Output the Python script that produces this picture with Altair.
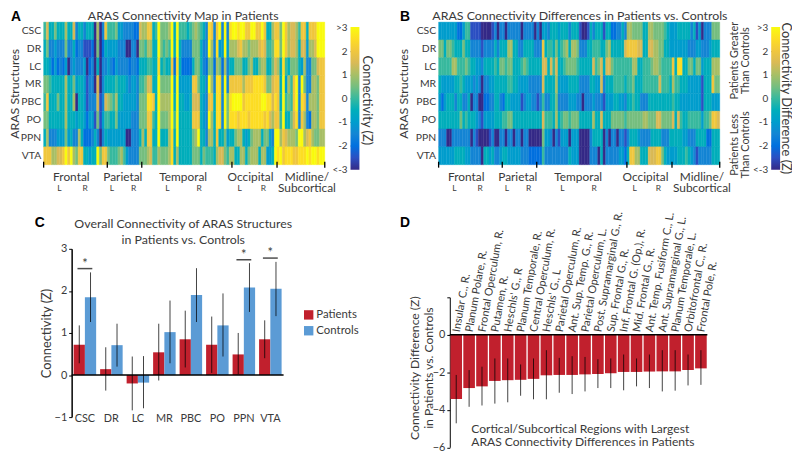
import altair as alt
import pandas as pd

STRUCTURES = ["CSC", "DR", "LC", "MR", "PBC", "PO", "PPN", "VTA"]

# Heat map cells, in half-Z units (value / 2 = Z), 106 regions per structure
A_CSC = [0,3,-1,-1,1,-1,-1,-1,2,-1,-1,3,-3,-1,-1,-3,-1,-1,-1,-6,2,-6,-3,4,0,0,0,1,-2,-2,-3,-3,-3,-3,-4,-4,
 3,2,2,4,4,-1,0,6,1,1,1,2,6,-1,6,0,0,0,-1,0,1,2,1,0,-1,-3,5,4,-3,4,6,-3,6,-3,
 5,6,6,5,6,6,4,4,6,6,4,4,6,4,-1,-1,2, 4,4,1,6,4,2,3,3,2,0,4,4,-1,4,4,4,6,6,6]
A_DR = [-1,1,-3,-3,-2,-3,-3,-3,1,-3,-3,-1,-4,-3,-3,-5,-5,-5,-4,-6,1,-6,-4,-1,-2,-2,-2,-2,-3,-3,-3,-6,-6,-3,-3,-6,
 1,1,0,2,2,-1,-1,6,1,0,1,0,6,-1,6,-1,-3,-3,-3,-3,1,1,1,-1,-3,-3,6,2,-3,5,-2,-2,6,-2,
 2,2,2,3,4,2,2,1,2,2,2,3,4,3,0,0,1, 5,5,1,6,4,2,3,3,2,-1,3,3,-2,2,2,3,6,6,6]
A_LC = [-1,-1,-2,-4,-2,-4,-3,-4,-2,-6,-3,-2,-3,-3,-3,-2,-6,-4,-3,-6,-1,-6,-3,-3,-2,-3,-4,-2,-3,-3,-3,-3,-4,-3,-3,-4,
 -1,-1,-1,0,0,-1,-1,5,-1,0,-1,-1,4,-4,5,-1,-4,-4,-4,-4,-1,1,1,-1,-3,-4,1,1,-4,2,1,-4,2,-3,
 -1,-1,1,1,1,-1,-1,1,2,-1,-1,1,2,2,-1,-1,1, 3,2,-1,5,0,-1,1,1,1,-1,-2,2,-3,-3,1,1,3,4,4]
A_MR = [1,1,0,-1,-1,-1,-1,-1,2,-1,-1,1,-2,-1,-1,-2,-5,-3,-3,-6,3,-6,-3,-1,-1,-1,-1,0,-1,-1,-1,-2,-3,-2,-2,-3,
 0,0,1,3,3,-1,-1,6,1,1,1,1,6,-2,6,-2,-2,-2,-2,-2,4,4,1,-1,-1,-3,6,2,-3,5,5,-3,6,-3,
 4,4,4,4,4,2,4,4,4,5,5,5,5,4,1,1,3, 4,4,-1,6,-2,2,0,4,6,-3,6,1,-3,-3,2,2,1,4,4]
A_PBC = [0,4,-1,-1,-1,1,-1,-1,2,-1,-1,2,-6,-1,-1,-2,-5,-3,-3,-3,3,-5,-3,3,2,1,0,2,-1,-1,-2,-2,-2,-2,-2,-3,
 1,1,1,5,5,4,-1,6,2,2,2,2,6,-1,6,-1,-1,-2,-2,-1,3,3,3,-1,-2,-3,4,4,-1,5,5,-3,6,1,
 5,6,6,6,6,4,5,5,5,5,5,5,6,6,5,5,3, 5,4,-1,6,0,1,0,4,6,-3,5,4,-3,2,2,2,1,4,4]
A_PO = [1,1,-1,-1,-1,-1,-1,-1,2,-1,-1,-1,-2,-1,-1,-2,-4,-2,-2,-5,1,-5,-2,0,0,-1,-1,1,-2,-2,-2,-2,-2,-3,-3,-3,
 1,1,1,4,4,0,-1,6,1,1,1,2,6,0,6,-1,-1,-1,-1,-1,4,4,4,-1,-2,-3,6,2,-1,5,5,-3,6,1,
 5,5,5,4,5,5,5,4,5,5,5,5,5,4,5,3,2, 4,4,0,6,-1,-1,1,3,5,-3,4,2,-3,-4,2,2,1,4,4]
A_PPN = [-1,2,-3,-3,-3,-2,-2,-2,1,-2,-1,-3,-3,2,-1,-4,-4,-4,-3,-1,-3,-6,-3,-1,-2,-2,-2,-2,-2,-2,-2,-6,-6,-3,-3,-3,
 -1,2,-1,4,4,-1,-1,6,-1,-1,-1,2,5,-1,6,-1,-1,-1,-1,-1,1,2,6,-1,-1,-3,2,2,-1,4,-1,-1,1,-2,
 -1,-1,1,2,2,-1,-2,-1,1,2,2,2,-1,1,1,-2,-3, 6,6,2,4,3,2,2,2,1,6,6,2,3,4,2,1,1,2,2]
A_VTA = [4,4,4,2,2,3,3,4,6,4,6,2,1,4,4,-1,-1,-2,-1,-1,6,1,4,4,1,0,0,0,1,2,0,-2,-3,-3,-3,-3,
 1,1,1,2,3,0,0,2,1,1,1,2,5,-1,2,-1,-1,-1,-1,-1,1,1,1,-1,1,0,0,0,-1,2,3,3,1,0,
 2,2,-1,-1,2,2,-1,1,2,2,2,-1,2,2,-2,-2,-1, 6,5,6,4,5,5,5,4,4,5,5,5,6,5,6,6,5,6,6]

B_CSC = [-2,-2,-2,-2,-2,-2,-2,-4,-4,-2,0,0,-5,-5,-5,-5,-6,-6,-6,-6,-5,-3,-6,-3,-3,-6,-3,-3,-3,-3,-3,-6,-3,-3,-3,-3,
 -6,-3,-6,-2,-2,-3,-1,-1,-1,-2,-1,-1,-1,-3,-1,-1,-1,-5,-6,-6,-5,-1,-3,-1,-1,-1,-5,-1,-1,-4,-4,-3,-3,-1,
 -3,2,2,1,1,1,1,-1,-1,2,2,1,1,1,1,0,-1, -2,-2,-2,-1,-1,-1,-1,-1,-3,-1,-5,-2,-6,-3,-3,-3,1,1,1]
B_DR = [1,1,-1,1,1,0,-1,-1,-1,1,-1,-1,-3,-3,-3,-3,-5,-3,-3,-3,-3,-1,-3,-1,-1,-1,2,2,-1,-1,-3,-3,-1,-1,-1,-1,
 -3,-3,-3,4,-1,0,0,-1,1,-1,0,1,2,-1,2,2,1,-3,-3,-3,-1,-1,0,0,0,-1,-1,1,2,-1,-1,-1,-1,-1,
 3,4,4,4,4,3,3,-1,-1,3,3,2,2,1,1,-1,-1, -2,-2,-2,-2,-2,-2,-2,-3,-3,-3,-2,-2,-3,-3,-3,-2,-1,-1,-1]
B_LC = [0,0,0,0,0,2,2,0,0,0,1,0,-1,-1,-2,-2,-3,-1,-1,-1,-1,0,-1,1,1,0,1,1,-1,-1,-1,0,1,0,-1,-1,
 -1,-1,-1,3,3,-1,3,0,3,-1,-1,0,1,1,1,1,0,-1,-1,-1,-1,-1,3,0,1,3,-1,3,3,1,0,0,0,0,
 0,0,0,2,2,-1,-1,0,0,0,1,2,2,1,0,0,0, 0,4,-1,5,5,-1,-1,1,1,-1,1,1,-2,-1,-1,-1,2,2,2]
B_MR = [-1,-2,-2,-2,-2,-2,-1,-1,0,-1,-2,-2,-2,-3,-2,-3,-6,-3,-3,-2,-2,-1,-1,-1,-1,-1,0,0,-1,-1,-2,-2,-2,-2,-3,-3,
 -3,-3,-3,3,-1,-1,-1,-1,2,-2,-2,-2,-2,-1,-1,-1,-1,-3,-3,-3,-3,-1,-1,-2,-2,3,-3,-1,-1,-1,0,0,0,0,
 -1,0,0,1,-1,-1,-1,0,0,0,0,0,0,3,0,0,0, -1,2,0,0,-1,-1,-1,-2,-2,-2,-2,-2,-5,-1,-1,-1,4,1,1]
B_PBC = [-2,-4,-2,-1,-1,-1,-3,-1,-1,-3,-3,-1,-6,-3,-3,-6,-6,-4,-4,-3,-3,-1,-1,-3,-4,-1,-1,-2,-2,-2,-2,-5,-3,-2,-2,-3,
 -3,-5,-3,0,-3,-3,-1,-1,1,-3,-3,-3,-3,-2,-2,-2,-3,-3,-6,-3,-3,-3,-2,-3,-3,-3,-5,-2,-2,-2,-1,-1,-2,-2,
 -3,-1,-1,0,-1,-1,-3,-3,-3,-1,-1,-1,-1,-1,-1,-1,-1, -1,0,-1,-1,-2,-2,-2,-2,-2,-2,-2,-2,-5,-1,-1,-1,-2,-2,-2]
B_PO = [-1,-1,-1,-1,-1,-1,-1,-1,1,-1,0,-1,-1,-1,-2,-3,-5,-2,-2,-2,-2,-1,-1,-1,0,0,1,1,-1,-1,-1,-1,-1,-1,-1,-1,
 -1,-1,-1,3,0,0,0,-1,2,-1,0,1,1,0,1,1,1,-1,-1,-1,-1,-1,2,-1,-1,3,-1,-1,-1,1,1,1,1,1,
 0,1,1,1,1,1,1,2,2,1,1,1,3,3,1,1,1, 1,3,-1,3,0,-1,-1,0,0,0,0,0,-2,0,0,1,4,4,3]
B_PPN = [-3,-3,-3,-6,-6,-3,-3,-3,-3,-3,-3,-3,-6,-3,-5,-6,-6,-6,-6,-5,-3,-6,-6,-3,-3,-6,-3,-3,-6,-3,-3,-6,-3,-3,-6,-6,
 -6,-6,-6,1,-2,-2,-3,-6,-3,-5,-2,-2,-2,-6,-2,-2,-2,-6,-6,-6,-6,-3,-1,-1,-1,-1,-6,-3,-6,-3,-3,-6,-3,-3,
 -5,-3,-1,-1,-1,-2,-3,-3,-3,-3,-1,-1,-1,-1,-3,-3,-3, -1,-1,-1,-1,-1,-2,-2,-3,-3,-3,-1,-1,-1,-1,-4,-4,-1,-1,-1]
B_VTA = [-2,-2,-2,-2,-2,-2,-1,-1,-1,-1,-2,-2,-3,-3,-3,-3,-6,-1,-1,-2,-1,-3,-3,-2,-1,-1,-2,-2,-2,-2,-2,-3,-3,-3,-4,-4,
 -4,-4,-4,0,-3,-3,-3,-3,-3,-3,-3,-3,-3,-1,-2,-2,-2,-6,-6,-6,-6,-3,-3,-3,-6,-1,-6,-3,-3,-3,-3,-3,-2,-2,
 -4,-1,4,4,2,2,-1,-1,-1,3,3,3,4,4,1,-1,-2, -2,-2,-2,-1,-1,-1,0,-1,-2,-3,-5,-3,-3,-3,-3,-3,-1,-1,-1]

MAP_A = [A_CSC, A_DR, A_LC, A_MR, A_PBC, A_PO, A_PPN, A_VTA]
MAP_B = [B_CSC, B_DR, B_LC, B_MR, B_PBC, B_PO, B_PPN, B_VTA]
COLORBAR_VALUES = [-3, -2, -1, 0, 1, 2, 3]
COLORBAR_LABELS = ["<-3", "-2", "-1", "0", "1", "2", ">3"]
REGION_EDGES = [0, 24, 37, 71, 88, 106]

# Panel C
PATIENTS = [0.72, 0.14, -0.20, 0.54, 0.85, 0.72, 0.49, 0.85]
CONTROLS = [1.85, 0.71, -0.18, 1.02, 1.90, 1.18, 2.08, 2.05]
PAT_LOW = [0.28, -0.37, -0.84, -0.13, 0.18, 0.05, 0.02, 0.40]
PAT_HIGH = [1.18, 0.66, 0.44, 1.22, 1.53, 1.39, 1.00, 1.30]
CON_LOW = [1.26, 0.20, -0.79, 0.28, 1.26, 0.44, 1.50, 1.40]
CON_HIGH = [2.44, 1.22, 0.45, 1.77, 2.54, 1.94, 2.66, 2.69]
SIG_CATS = ["CSC", "PPN", "VTA"]
SIG_LEVEL = [2.53, 2.74, 2.78]

# Panel D
REGIONS = ["Insular C., R.", "Planum Polare, R.", "Frontal Operculum, R.", "Putamen, R.",
           "Heschls' G., R", "Planum Temporale, R.", "Central Operculum, R.", "Heschls' G., L",
           "Parietal Operculum, R.", "Ant. Sup. Temp. G., R.", "Parietal Operculum, L.",
           "Post. Supramarginal G., R.", "Sup. Frontal G., R.", "Inf. Frontal G. (Op.), R.",
           "Mid.  Frontal G., R.", "Ant. Temp. Fusiform C., L.", "Ant. Supramarginal G., L.",
           "Planum Temporale, L.", "Orbitofrontal C., R.", "Frontal Pole, R."]
DIFF = [-3.42, -2.84, -2.75, -2.46, -2.42, -2.40, -2.35, -2.16, -2.14, -2.14,
        -2.11, -2.09, -2.05, -1.98, -1.98, -1.96, -1.95, -1.95, -1.88, -1.79]
DIFF_HIGH = [-2.14, -1.88, -1.70, -1.26, -1.26, -1.58, -1.26, -0.82, -1.23, -1.14,
             -1.18, -1.30, -1.26, -1.05, -1.26, -1.05, -0.82, -0.82, -1.05, -0.82]
DIFF_LOW = [-4.72, -3.84, -3.77, -3.67, -3.60, -3.25, -3.44, -3.44, -3.09, -3.16,
            -3.02, -2.84, -2.84, -2.96, -2.75, -2.84, -3.02, -2.98, -2.70, -2.67]

for r in MAP_A + MAP_B:
    assert len(r) == 106, [len(x) for x in MAP_A + MAP_B]

PARULA = ["#352a87", "#0363e1", "#1485d4", "#06a7c6", "#38b99e", "#92bf73", "#d9ba56", "#fcce2e", "#f9fb0e"]
PARULA_DOMAIN = [-3, -2.25, -1.5, -0.75, 0, 0.75, 1.5, 2.25, 3]
TXT = "#3a3a3a"
ONE = alt.Data(values=[{"a": 1}])


def note(text, x, y, size=12, color=TXT, **kw):
    return alt.Chart(ONE).mark_text(text=text, fontSize=size, color=color, **kw).encode(
        x=alt.value(x), y=alt.value(y))


def heatmap(rows, legend_x, title_x, extras, w=284, h=144):
    df = pd.DataFrame([{"row": s, "col": c, "z": v / 2}
                       for s, r in zip(STRUCTURES, rows) for c, v in enumerate(r)])
    cscale = alt.Scale(domain=PARULA_DOMAIN, range=PARULA)
    rect = alt.Chart(df).mark_rect(strokeWidth=0.4).encode(
        x=alt.X("col:O", axis=None, scale=alt.Scale(paddingInner=0, paddingOuter=0)),
        y=alt.Y("row:N", sort=STRUCTURES, title="ARAS Structures",
                scale=alt.Scale(paddingInner=0, paddingOuter=0),
                axis=alt.Axis(ticks=False, domain=False, labelFontSize=10.5, labelPadding=3,
                              labelColor=TXT, titleColor=TXT, titleFontSize=12.5,
                              titleFontWeight="normal", titleX=title_x)),
        color=alt.Color("z:Q", scale=cscale, legend=alt.Legend(
            title=None, orient="none", legendX=legend_x, legendY=5,
            gradientLength=144, gradientThickness=9, values=COLORBAR_VALUES,
            labelExpr="''", labelOpacity=0, padding=0)),
        stroke=alt.Stroke("z:Q", scale=cscale, legend=None),
    )
    cb_df = pd.DataFrame({"v": COLORBAR_VALUES, "t": COLORBAR_LABELS})
    cb_y = alt.Y("v:Q", axis=None, scale=alt.Scale(domain=[-3, 3], range=[149, 6]))
    ticks = alt.Chart(cb_df[(cb_df.v > -3) & (cb_df.v < 3)]).mark_tick(
        color="#222222", size=3, thickness=1).encode(x=alt.value(legend_x + 1.5), y=cb_y)
    cb_text = alt.Chart(cb_df).mark_text(align="right", fontSize=10, color=TXT).encode(
        x=alt.value(legend_x - 3), y=cb_y, text="t:N")
    layers = [rect, ticks, cb_text]
    for e in REGION_EDGES:
        px = e / 106 * w
        layers.append(alt.Chart(ONE).mark_rule(color="black", strokeWidth=1.3).encode(
            x=alt.value(px), y=alt.value(h - 3), y2=alt.value(h + 3)))
    for text, x in [("Frontal", 28), ("Parietal", 80), ("Temporal", 141), ("Occipital", 209)]:
        layers.append(note(text, x, 156, 12))
    for line, y in [("Midline/", 156), ("Subcortical", 168)]:
        layers.append(note(line, 266, y, 12))
    for x in [16, 69, 125, 198]:
        layers.append(note("L", x, 168, 8.5))
    for x in [42, 91, 157, 222]:
        layers.append(note("R", x, 168, 8.5))
    return alt.layer(*layers, *extras).resolve_scale(y="independent").properties(width=w, height=h)


panel_a = heatmap(MAP_A, 310, -22, [
    note("ARAS Connectivity Map in Patients", 141, -6, 12.5),
    note("A", -33, -5, 14, "black", font="Liberation Sans", fontWeight="bold", align="left"),
    note("Connectivity (Z)", 327, 79, 13, angle=90),
])
panel_b = heatmap(MAP_B, 336, -28, [
    note("ARAS Connectivity Differences in Patients vs. Controls", 142.7, -6, 12.5),
    note("B", -39, -5, 14, "black", font="Liberation Sans", fontWeight="bold", align="left"),
    note("Connectivity Difference (Z)", 351, 77, 13, angle=90),
    note("Patients Greater", 299, 39, 11, angle=270),
    note("Than Controls", 311, 39, 11, angle=270),
    note("Patients Less", 299, 124, 11, angle=270),
    note("Than Controls", 311, 124, 11, angle=270),
])

# Panel C
c_rows = []
for group, vals, lo, hi in [("Patients", PATIENTS, PAT_LOW, PAT_HIGH), ("Controls", CONTROLS, CON_LOW, CON_HIGH)]:
    for s, v, l, u in zip(STRUCTURES, vals, lo, hi):
        c_rows.append({"s": s, "group": group, "v": v, "lo": l, "hi": u})
c_df = pd.DataFrame(c_rows)
GROUPS = ["Patients", "Controls"]
c_x = alt.X("s:N", sort=STRUCTURES, title=None,
            scale=alt.Scale(range=[28.3, 242.4], paddingInner=0.15, paddingOuter=0.075),
            axis=alt.Axis(ticks=False, domain=False, labelAngle=0, labelPadding=-5, labelFontSize=11,
                          labelColor=TXT))
c_off = alt.XOffset("group:N", sort=GROUPS)
c_y = alt.Y("v:Q", scale=alt.Scale(domain=[-1, 3], nice=False), title="Connectivity (Z)",
            axis=alt.Axis(values=[-1, 0, 1, 2, 3], offset=-28.3, grid=False, tickSize=3, domainColor="black",
                          domainWidth=1.5, tickColor="black", labelFontSize=11, labelColor=TXT,
                          titleColor=TXT, titleFontSize=13, titleFontWeight="normal", titlePadding=1))
c_bars = alt.Chart(c_df).mark_bar().encode(
    x=c_x, xOffset=c_off, y=c_y,
    color=alt.Color("group:N", sort=GROUPS, scale=alt.Scale(domain=GROUPS, range=["#c1202d", "#5b9bd5"]),
                    legend=alt.Legend(title=None, orient="none", legendX=262, legendY=61, symbolType="square",
                                      symbolSize=90, symbolStrokeWidth=0, labelFontSize=11.5, labelColor=TXT,
                                      labelOffset=2, rowPadding=3, padding=0)))
c_err = alt.Chart(c_df).mark_rule(color="black", opacity=0.75, strokeWidth=1).encode(
    x=c_x, xOffset=c_off, y=alt.Y("lo:Q"), y2="hi:Q")
c_zero = alt.Chart(ONE).mark_rule(color="black", strokeWidth=1.6).encode(
    x=alt.value(28.3), x2=alt.value(242.4), y=alt.datum(0))
sig_df = pd.DataFrame({"s": SIG_CATS, "y": SIG_LEVEL})
c_sig = alt.Chart(sig_df).mark_tick(color="black", size=15, thickness=1.5).encode(x=c_x, y=alt.Y("y:Q"))
c_star = alt.Chart(sig_df).mark_text(text="*", fontSize=13, color=TXT, baseline="middle", dy=-5).encode(
    x=c_x, y=alt.Y("y:Q"))
panel_c = alt.layer(c_bars, c_err, c_zero, c_sig, c_star,
                    note("Overall Connectivity of ARAS Structures", 141, -25, 12.5),
                    note("in Patients vs. Controls", 141, -9, 12.5),
                    note("C", -4, -26, 14, "black", font="Liberation Sans", fontWeight="bold")).properties(
    width=284, height=170)

# Panel D
d_df = pd.DataFrame({"r": REGIONS, "v": DIFF, "lo": DIFF_LOW, "hi": DIFF_HIGH, "zero": [0] * len(REGIONS)})
d_x = alt.X("r:N", sort=REGIONS, axis=None,
            scale=alt.Scale(range=[11.3, 271.5], paddingInner=0.1, paddingOuter=0.05))
d_y = alt.Y("v:Q", scale=alt.Scale(domain=[-6, 2], nice=False, range=[200.5, 49]),
            title=["Connectivity Difference (Z)", "in Patients vs. Controls"],
            axis=alt.Axis(values=[2, 0, -2, -4, -6], offset=-11.3, grid=False, tickSize=3,
                          labelExpr="datum.value==2?'':datum.label", domainColor="black", domainWidth=1,
                          tickColor="black", labelFontSize=11, labelColor=TXT, titleColor=TXT, titleFontSize=12.3,
                          titleFontWeight="normal", titleY=120, titleX=-29, titleLineHeight=15))
d_bars = alt.Chart(d_df).mark_bar(color="#c1202d").encode(x=d_x, y=d_y)
d_err = alt.Chart(d_df).mark_rule(color="black", opacity=0.75, strokeWidth=1).encode(
    x=d_x, y=alt.Y("lo:Q"), y2="hi:Q")
d_zero = alt.Chart(ONE).mark_rule(color="black", strokeWidth=1.6).encode(
    x=alt.value(11.3), x2=alt.value(271.5), y=alt.datum(0))
d_text = alt.Chart(d_df).mark_text(angle=280, align="left", baseline="middle", fontSize=11, color=TXT, dx=3).encode(
    x=d_x, y=alt.Y("zero:Q"), text="r:N")
panel_d = alt.layer(d_bars, d_err, d_zero, d_text,
                    note("D", -34, -26, 14, "black", font="Liberation Sans", fontWeight="bold"),
                    note("Cortical/Subcortical Regions with Largest", 33, 182, 12.2, align="left"),
                    note("ARAS Connectivity Differences in Patients", 33, 195, 12.2, align="left"),
                    ).properties(width=272, height=201)

chart = alt.concat(panel_a, panel_b, panel_c, panel_d, columns=2, bounds="flush",
                   spacing={"column": 115, "row": 85}).properties(padding=0, background="white").configure(
    font="Lato").configure_view(stroke=None)

chart.save("out.html", embed_options={"renderer": "svg", "actions": False})
